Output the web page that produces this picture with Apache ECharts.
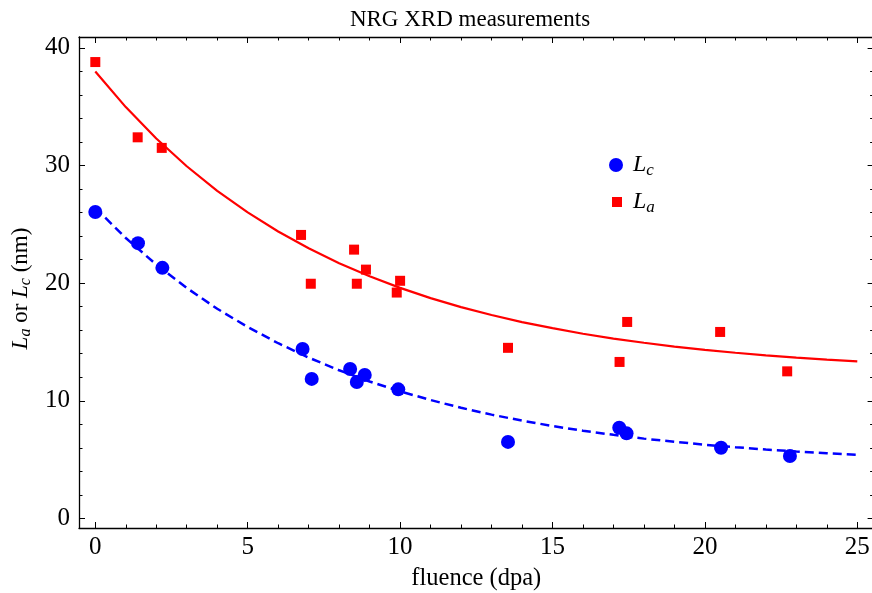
<!DOCTYPE html>
<html>
<head>
<meta charset="utf-8">
<script src="https://cdn.jsdelivr.net/npm/echarts@6/dist/echarts.min.js"></script>
<style>
  html, body { margin: 0; padding: 0; background: #ffffff; overflow: hidden; }
  #chart { width: 872px; height: 593px; }
</style>
</head>
<body>
<div id="chart"></div>
<script>
// Crystallite sizes from XRD versus irradiation fluence
var lcFluence = [0, 1.4, 2.2, 6.8, 7.1, 8.36, 8.58, 8.84, 9.94, 13.54, 17.19, 17.43, 20.53, 22.79];
var lcSize    = [26.05, 23.4, 21.3, 14.4, 11.86, 12.7, 11.6, 12.2, 10.97, 6.5, 7.7, 7.23, 6.0, 5.3];

var laFluence = [0, 1.39, 2.18, 6.75, 7.07, 8.49, 8.58, 8.88, 10.0, 9.89, 13.54, 17.2, 17.45, 20.5, 22.7];
var laSize    = [38.8, 32.4, 31.5, 24.1, 19.95, 22.85, 19.95, 21.15, 20.2, 19.2, 14.5, 13.3, 16.7, 15.85, 12.5];

// Fitted decay curves, sampled at whole dpa
var fitFluence = [0, 1, 2, 3, 4, 5, 6, 7, 8, 9, 10, 11, 12, 13, 14, 15, 16, 17, 18, 19, 20, 21, 22, 23, 24, 25];
var laFit = [38.0, 34.97, 32.30, 29.94, 27.85, 26.02, 24.39, 22.96, 21.70, 20.58, 19.60, 18.73, 17.96, 17.29, 16.69, 16.17, 15.70, 15.29, 14.93, 14.61, 14.33, 14.08, 13.86, 13.66, 13.49, 13.34];
var lcFit = [26.4, 23.84, 21.58, 19.59, 17.82, 16.27, 14.89, 13.67, 12.59, 11.64, 10.80, 10.06, 9.40, 8.82, 8.31, 7.85, 7.45, 7.10, 6.78, 6.51, 6.26, 6.05, 5.85, 5.69, 5.54, 5.41];

// Tick positions
var xMajorTicks = [0, 5, 10, 15, 20, 25];
var xMinorTicks = [1, 2, 3, 4, 6, 7, 8, 9, 11, 12, 13, 14, 16, 17, 18, 19, 21, 22, 23, 24];
var yMajorTicks = [0, 10, 20, 30, 40];
var yMinorTicks = [2, 4, 6, 8, 12, 14, 16, 18, 22, 24, 26, 28, 32, 34, 36, 38];

var X_MIN = -0.535, X_MAX = 25.535;
var Y_MIN = -0.82, Y_MAX = 40.93;

var FONT = "'Liberation Serif', 'DejaVu Serif', serif";
var INK = '#000000';
var TICK_FONT = 25;

function zip(xs, ys) {
  return xs.map(function (x, i) { return [x, ys[i]]; });
}

// The plot frame runs slightly past the right edge of the canvas
var gridBox = { left: 79, top: 37, width: 794.6, height: 491, outerBoundsMode: 'none', containLabel: false };

function axisDef(dim, grid, pos, ticks, len, withLine, withLabels) {
  return {
    type: 'value', gridIndex: grid, position: pos,
    min: dim === 'x' ? X_MIN : Y_MIN,
    max: dim === 'x' ? X_MAX : Y_MAX,
    axisLine: {
      show: withLine, onZero: false,
      lineStyle: { color: INK, width: withLine ? 1.3 : 0, opacity: withLine ? 1 : 0 }
    },
    axisTick: { show: len > 0, inside: true, length: len, customValues: ticks, lineStyle: { color: INK, width: 1 } },
    axisLabel: { show: withLabels, customValues: ticks, margin: dim === 'x' ? 7 : 9, color: INK, fontFamily: FONT, fontSize: TICK_FONT },
    splitLine: { show: false }
  };
}

var xBottom = axisDef('x', 0, 'bottom', xMajorTicks, 6, true, true);
xBottom.name = 'fluence (dpa)';
xBottom.nameLocation = 'middle';
xBottom.nameGap = 38;
xBottom.nameTextStyle = { color: INK, fontFamily: FONT, fontSize: 24.5 };

var yLeft = axisDef('y', 0, 'left', yMajorTicks, 6, true, true);
yLeft.name = '{l|L}{s|a}{t| or }{l|L}{s|c}{t| (nm)}';
yLeft.nameLocation = 'middle';
yLeft.nameRotate = 90;
yLeft.nameGap = 45;
yLeft.nameTextStyle = {
  color: INK, fontFamily: FONT, fontSize: 23, padding: [0, 12, 0, 0],
  rich: {
    l: { fontFamily: FONT, fontStyle: 'italic', fontSize: 23, color: INK },
    s: { fontFamily: FONT, fontStyle: 'italic', fontSize: 16, color: INK, padding: [10, 0, 0, 0] },
    t: { fontFamily: FONT, fontSize: 23, color: INK }
  }
};

var legendRich = {
  l: { fontFamily: FONT, fontStyle: 'italic', fontSize: 24, color: INK },
  s: { fontFamily: FONT, fontStyle: 'italic', fontSize: 17, color: INK, padding: [11, 0, 0, 0] }
};
function legendLabel(name) {
  return name === 'Lc' ? '{l|L}{s|c}' : '{l|L}{s|a}';
}

var option = {
  backgroundColor: '#ffffff',
  animation: false,
  title: {
    text: 'NRG XRD measurements',
    left: 470, top: 8, padding: 0, textAlign: 'center',
    textStyle: { color: INK, fontFamily: FONT, fontSize: 23, fontWeight: 'normal' }
  },
  legend: [
    {
      data: ['Lc'], orient: 'vertical', left: 609, top: 153, padding: 0,
      itemWidth: 14, itemHeight: 14, itemGap: 8, selectedMode: false,
      formatter: legendLabel, textStyle: { rich: legendRich, padding: [0, 0, 0, 5] }
    },
    {
      data: ['La'], orient: 'vertical', left: 612, top: 190, padding: 0,
      itemWidth: 10, itemHeight: 10, itemGap: 8, selectedMode: false,
      formatter: legendLabel, textStyle: { rich: legendRich, padding: [0, 0, 0, 6] }
    }
  ],
  grid: [
    Object.assign({}, gridBox),
    Object.assign({}, gridBox)
  ],
  xAxis: [
    xBottom,
    axisDef('x', 0, 'top', xMajorTicks, 6, true, false),
    axisDef('x', 1, 'bottom', xMinorTicks, 3.5, false, false),
    axisDef('x', 1, 'top', xMinorTicks, 3.5, false, false)
  ],
  yAxis: [
    yLeft,
    axisDef('y', 0, 'right', yMajorTicks, 6, false, false),
    axisDef('y', 1, 'left', yMinorTicks, 3.5, false, false),
    axisDef('y', 1, 'right', yMinorTicks, 3.5, false, false)
  ],
  series: [
    {
      name: 'La fit', type: 'line', xAxisIndex: 0, yAxisIndex: 0,
      data: zip(fitFluence, laFit), smooth: false,
      showSymbol: false, symbol: 'none', z: 2,
      lineStyle: { color: '#ff0000', width: 2.2 }
    },
    {
      name: 'Lc fit', type: 'line', xAxisIndex: 0, yAxisIndex: 0,
      data: zip(fitFluence, lcFit), smooth: false,
      showSymbol: false, symbol: 'none', z: 2,
      lineStyle: { color: '#0000ff', width: 2.5, type: [9, 5] }
    },
    {
      name: 'Lc', type: 'scatter', xAxisIndex: 0, yAxisIndex: 0,
      data: zip(lcFluence, lcSize), symbol: 'circle', symbolSize: 14, z: 3,
      itemStyle: { color: '#0000ff', opacity: 1 }
    },
    {
      name: 'La', type: 'scatter', xAxisIndex: 0, yAxisIndex: 0,
      data: zip(laFluence, laSize), symbol: 'rect', symbolSize: 10, z: 3,
      itemStyle: { color: '#ff0000', opacity: 1 }
    }
  ]
};

var chart = echarts.init(document.getElementById('chart'), null, { renderer: 'canvas' });
chart.setOption(option);
</script>
</body>
</html>
